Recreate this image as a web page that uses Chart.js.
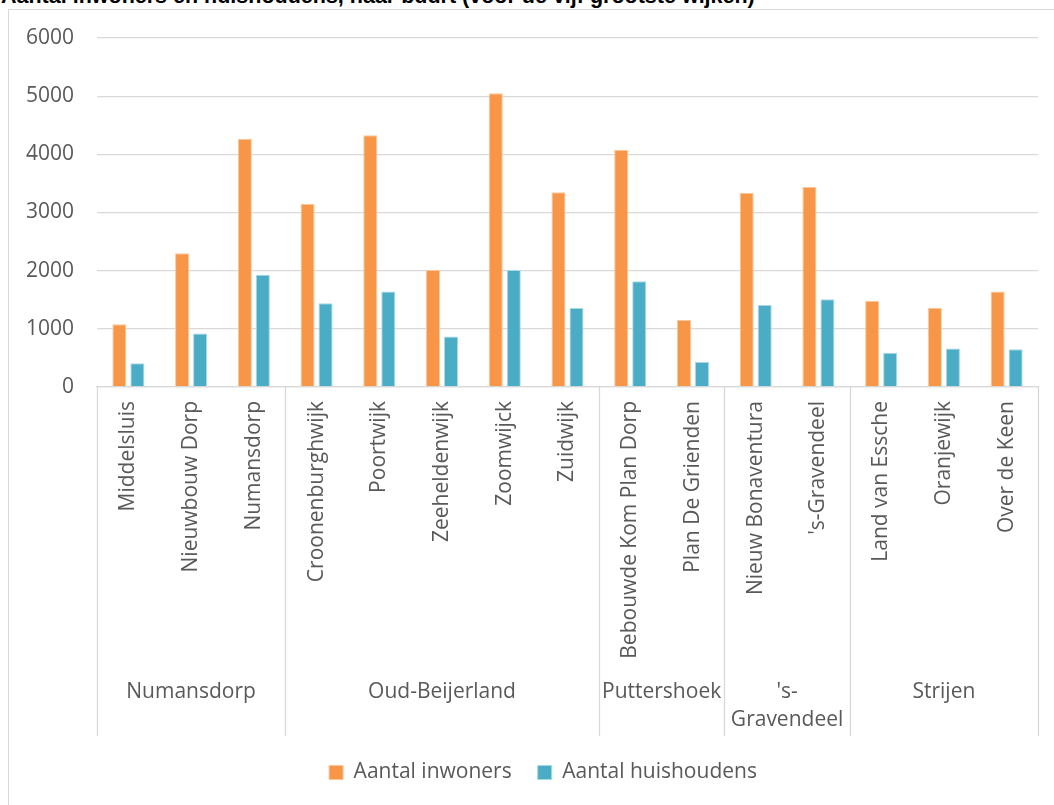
<!DOCTYPE html>
<html>
<head>
<meta charset="utf-8">
<script src="https://cdn.jsdelivr.net/npm/chart.js@4/dist/chart.umd.min.js"></script>
<style>
  html, body { margin: 0; padding: 0; background: #fff; overflow: hidden; }
  #wrap { position: relative; width: 1054px; height: 805px; }
  #box { position: absolute; left: 8px; top: 9px; width: 1100px; height: 900px; border: 1px solid #d9d9d9; box-sizing: border-box; }
  #title { position: absolute; left: 1px; top: -14px; font: bold 21.5px "Liberation Sans", Arial, sans-serif; line-height: 21px; color: #000; white-space: nowrap; }
  canvas { position: absolute; left: 0; top: 0; }
</style>
</head>
<body>
<div id="wrap">
  <div id="box"></div>
  <div id="title">Aantal inwoners en huishoudens, naar buurt (voor de vijf grootste wijken)</div>
  <canvas id="c" width="1054" height="805"></canvas>
</div>
<script>
const buurten = ["Middelsluis", "Nieuwbouw Dorp", "Numansdorp", "Croonenburghwijk", "Poortwijk", "Zeeheldenwijk", "Zoomwijck", "Zuidwijk", "Bebouwde Kom Plan Dorp", "Plan De Grienden", "Nieuw Bonaventura", "'s-Gravendeel", "Land van Essche", "Oranjewijk", "Over de Keen"];
const wijken = ["Numansdorp", "Oud-Beijerland", "Puttershoek", "'s-\nGravendeel", "Strijen"];
const wijkAantalBuurten = [3, 5, 2, 2, 3];
const inwoners = [1080, 2300, 4270, 3150, 4330, 2010, 5050, 3350, 4080, 1150, 3340, 3440, 1480, 1360, 1640];
const huishoudens = [410, 920, 1930, 1440, 1640, 870, 2010, 1360, 1820, 430, 1410, 1510, 590, 660, 650];
const yTicks = [0, 1000, 2000, 3000, 4000, 5000, 6000];
const seriesNames = ["Aantal inwoners", "Aantal huishoudens"];

const TEXT = '#595959';
const GRID = '#d9d9d9';
const FONT = '"Open Sans", "Noto Sans", sans-serif';
const FS = 21;

const groupPlugin = {
  id: 'groups',
  afterLayout(chart) {
    if (chart.legend) { chart.legend.left += 24; chart.legend.right += 24; }
  },
  afterDraw(chart) {
    const ctx = chart.ctx;
    const x = chart.scales.x;
    const area = chart.chartArea;
    const step = x.getPixelForValue(1) - x.getPixelForValue(0);
    const lineBottom = x.bottom;
    ctx.save();
    ctx.strokeStyle = GRID;
    ctx.lineWidth = 1.3;
    let idx = 0;
    const bounds = [x.getPixelForValue(0) - step / 2];
    wijkAantalBuurten.forEach(n => { idx += n; bounds.push(x.getPixelForValue(idx - 1) + step / 2); });
    bounds.forEach(b => {
      ctx.beginPath();
      ctx.moveTo(Math.round(b) + 0.5, area.bottom);
      ctx.lineTo(Math.round(b) + 0.5, lineBottom);
      ctx.stroke();
    });
    ctx.fillStyle = TEXT;
    ctx.font = FS + 'px ' + FONT;
    ctx.textAlign = 'center';
    ctx.textBaseline = 'middle';
    wijken.forEach((w, i) => {
      const cx = (bounds[i] + bounds[i + 1]) / 2;
      w.split('\n').forEach((line, j) => {
        ctx.fillText(line, cx, area.bottom + 305 + j * 28);
      });
    });
    ctx.restore();
  }
};

new Chart(document.getElementById('c'), {
  type: 'bar',
  data: {
    labels: buurten,
    datasets: [
      { label: seriesNames[0], data: inwoners, backgroundColor: '#F79646', borderColor: '#FAC79C', borderWidth: 1, categoryPercentage: 0.574, barPercentage: 0.78 },
      { label: seriesNames[1], data: huishoudens, backgroundColor: '#4BACC6', borderColor: '#A9D8E4', borderWidth: 1, categoryPercentage: 0.574, barPercentage: 0.78 }
    ]
  },
  options: {
    responsive: false,
    animation: false,
    layout: { padding: { left: 0, right: 16, top: 38, bottom: 12 } },
    plugins: {
      title: { display: false },
      tooltip: { enabled: false },
      legend: {
        position: 'bottom',
        labels: { color: TEXT, font: { family: FONT, size: FS }, boxWidth: 14, boxHeight: 14, padding: 26 }
      }
    },
    scales: {
      x: {
        grid: { display: false, drawTicks: false },
        border: { display: true, color: GRID, width: 1.3 },
        ticks: { color: TEXT, font: { family: FONT, size: FS }, minRotation: 90, maxRotation: 90, autoSkip: false, padding: 14 },
        afterFit(s) { s.height = 349; }
      },
      y: {
        min: 0, max: 6000,
        afterBuildTicks(s) { s.ticks = yTicks.map(v => ({ value: v })); },
        grid: { color: GRID, lineWidth: 1.3, drawTicks: false },
        border: { display: false },
        ticks: { color: TEXT, font: { family: FONT, size: FS }, padding: 23, callback: v => String(v) },
        afterFit(s) { s.width = 97; }
      }
    }
  },
  plugins: [groupPlugin]
});
</script>
</body>
</html>
